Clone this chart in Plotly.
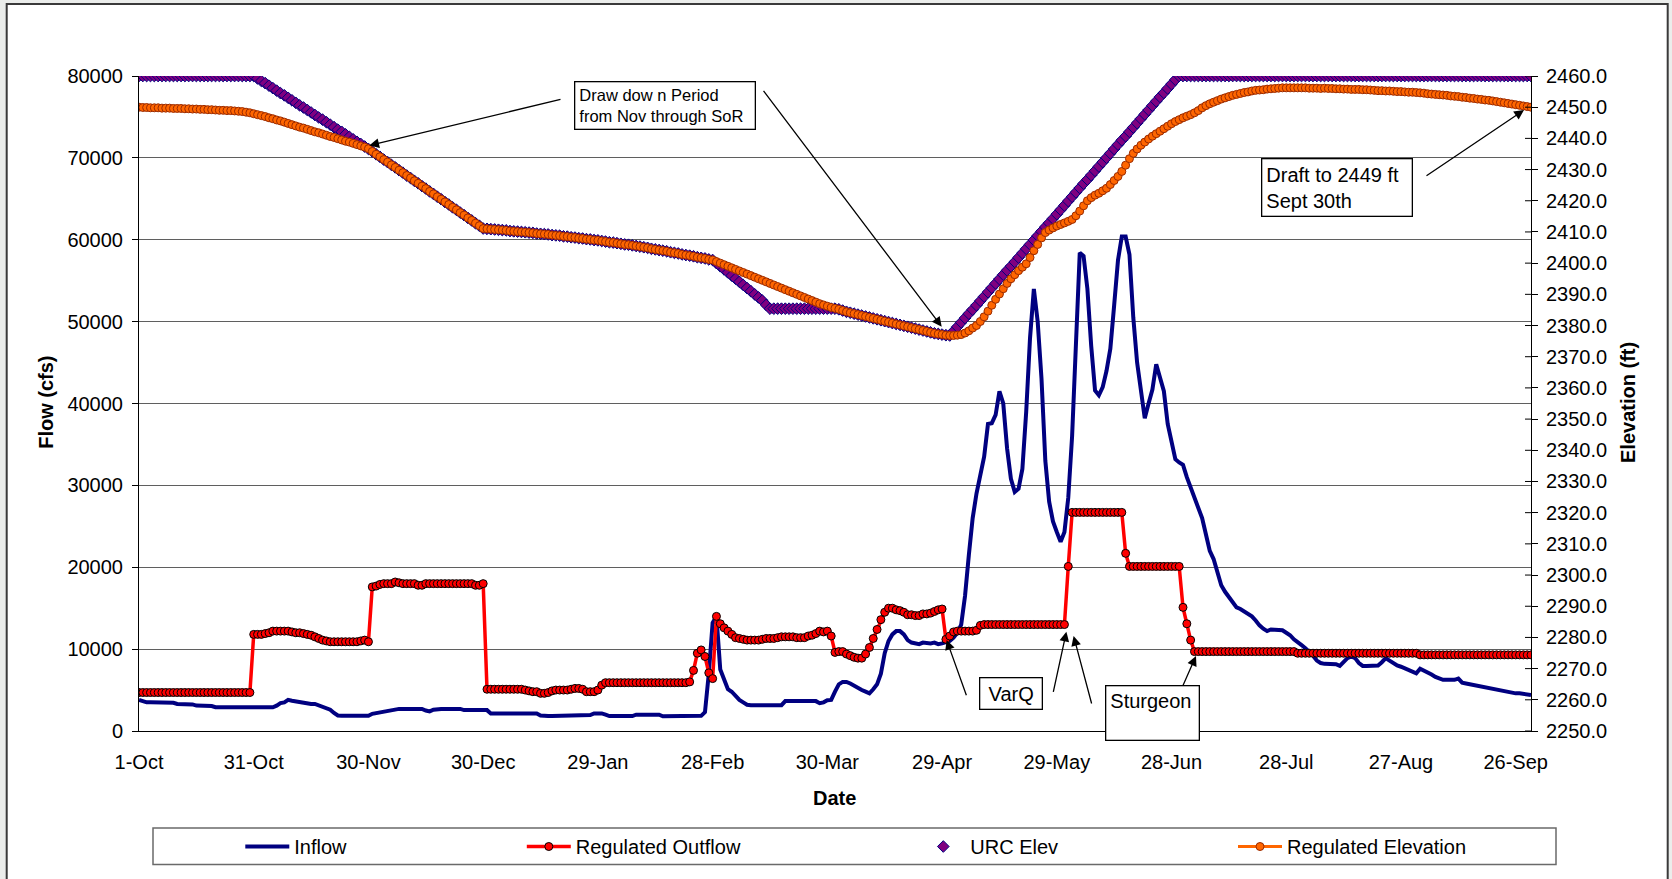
import plotly.graph_objects as go

# ------------------------------------------------------------------ data
tick_days = [0, 30, 60, 90, 120, 150, 180, 210, 240, 270, 300, 330, 360]
tick_labels = ["1-Oct", "31-Oct", "30-Nov", "30-Dec", "29-Jan", "28-Feb", "30-Mar",
               "29-Apr", "29-May", "28-Jun", "28-Jul", "27-Aug", "26-Sep"]

# Inflow (cfs), daily, Oct..Sep
inflow_oct = [3800, 3600, 3500, 3500, 3500, 3500, 3500, 3500, 3500, 3450,
              3300, 3300, 3300, 3300, 3250, 3100, 3100, 3100, 3100, 3050,
              2900, 2900, 2900, 2900, 2900, 3000, 2900, 2900, 2900, 2900,
              2900]
inflow_nov = [2900, 2900, 2900, 2900, 2900, 3100, 3400, 3500, 3800, 3700,
              3600, 3500, 3400, 3400, 3300, 3300, 3100, 2900, 2800, 2600,
              2200, 1900, 1850, 1850, 1850, 1850, 1850, 1850, 1850, 1850]
inflow_dec = [2100, 2200, 2200, 2300, 2500, 2500, 2600, 2700, 2700, 2700,
              2700, 2700, 2700, 2700, 2500, 2400, 2600, 2700, 2700, 2700,
              2700, 2700, 2700, 2700, 2550, 2550, 2550, 2550, 2550, 2550,
              2550]
inflow_jan = [2150, 2150, 2150, 2150, 2150, 2150, 2150, 2150, 2150, 2150,
              2150, 2150, 2150, 1900, 1830, 1830, 1830, 1830, 1830, 1830,
              1830, 1950, 1950, 1950, 1950, 1950, 1950, 2150, 2150, 2150,
              2000]
inflow_feb = [1830, 1830, 1830, 1830, 1830, 1830, 1830, 1990, 1990, 1990,
              1990, 1990, 1990, 1990, 1800, 1800, 1800, 1800, 1800, 1800,
              1800, 1800, 1800, 1800, 1850, 2300, 7000, 13200]
inflow_mar = [14000, 7500, 6200, 5100, 4800, 4300, 3800, 3500, 3200, 3150,
              3150, 3150, 3150, 3150, 3150, 3150, 3150, 3150, 3650, 3650,
              3650, 3650, 3650, 3650, 3650, 3650, 3650, 3400, 3500, 3750,
              3800]
inflow_apr = [4800, 5700, 6000, 6000, 5800, 5500, 5300, 5000, 4800, 4600,
              5100, 5700, 7000, 9500, 11000, 11800, 12200, 12200, 11800, 11100,
              10800, 10700, 10600, 10800, 10700, 10700, 10800, 10600, 10700, 10900]
inflow_may = [11000, 11400, 12000, 13000, 16500, 21500, 26000, 29000, 31500, 33500,
              37500, 37600, 38600, 41500, 40000, 34500, 30800, 29200, 29600, 32000,
              39000, 48000, 54000, 50000, 43000, 33000, 28000, 25600, 24300, 23100,
              24300]
inflow_jun = [28500, 36000, 48000, 58400, 58000, 54000, 47000, 41600, 41000, 42000,
              44000, 46700, 52000, 57500, 60400, 60400, 58200, 50500, 45000, 41200,
              38200, 40000, 41700, 44800, 43000, 41500, 37500, 35300, 33200, 32800]
inflow_jul = [32500, 31000, 29800, 28500, 27300, 26000, 24000, 22000, 21000, 19500,
              17800, 17000, 16300, 15700, 15100, 14900, 14600, 14400, 14000, 13500,
              12900, 12500, 12200, 12400, 12400, 12400, 12300, 12000, 11700, 11200,
              10900]
inflow_aug = [10500, 10100, 9700, 9200, 8600, 8300, 8200, 8200, 8200, 8150,
              7950, 8500, 8900, 9100, 8900, 8300, 7950, 7950, 7950, 7950,
              8000, 8400, 8900, 8600, 8300, 8000, 7850, 7650, 7450, 7200,
              7050]
inflow_sep = [7600, 7400, 7200, 6900, 6600, 6400, 6250, 6250, 6250, 6250,
              6400, 5900, 5800, 5700, 5650, 5550, 5450, 5350, 5300, 5200,
              5100, 5000, 4900, 4750, 4700, 4600, 4600, 4500, 4450, 4400]

# Regulated outflow (cfs)
outflow_oct = [4700] * 30 + [11800]
outflow_nov = [11800, 11800, 11900, 12000, 12200, 12200, 12200, 12200, 12200, 12100,
               12000, 12000, 11900, 11800, 11700, 11500, 11300, 11100, 11000, 10900,
               10900, 10900, 10900, 10900, 10900, 10900, 10900, 11000, 11100, 10900]
outflow_dec = [17600, 17700, 17900, 18000, 18000, 18000, 18200, 18100, 18000, 18000,
               18000, 18000, 17800, 17800, 18000, 18000, 18000, 18000, 18000, 18000,
               18000, 18000, 18000, 18000, 18000, 18000, 18000, 17800, 17800, 18000,
               5100]
outflow_jan = [5100, 5100, 5100, 5100, 5100, 5100, 5100, 5100, 5100, 5000,
               4900, 4800, 4800, 4600, 4600, 4700, 4900, 5000, 5000, 5000,
               5000, 5100, 5200, 5200, 5100, 4800, 4800, 4800, 5000, 5600,
               5900]
outflow_feb = [5900] * 21 + [6000, 7400, 9500, 9900, 9100, 7100, 6400]
outflow_mar = [14000, 13100, 12600, 12200, 11800, 11400, 11300, 11200, 11100, 11100,
               11100, 11100, 11200, 11300, 11300, 11300, 11400, 11500, 11500, 11500,
               11500, 11400, 11400, 11400, 11600, 11700, 11900, 12200, 12100, 12200,
               11600]
outflow_apr = [9600, 9700, 9700, 9400, 9200, 9000, 8900, 8900, 9400, 10200,
               11300, 12400, 13600, 14500, 15000, 15000, 14800, 14700, 14500, 14200,
               14200, 14100, 14100, 14300, 14300, 14400, 14600, 14800, 14900, 11200]
outflow_may = [11600, 12100, 12200, 12200, 12200, 12200, 12200, 12300, 12900] + [13000] * 22
outflow_jun = [20100] + [26700] * 14 + [21700] + [20100] * 14
outflow_jul = [15100, 13100, 11100] + [9700] * 27 + [9500]
outflow_aug = [9500] * 31
outflow_sep = [9300] * 30

# URC elevation (ft)
urc_oct = [2460.0] * 31
urc_nov = [2459.2, 2458.4, 2457.7, 2456.9, 2456.1, 2455.3, 2454.5, 2453.8, 2453.0, 2452.2,
           2451.4, 2450.6, 2449.9, 2449.1, 2448.3, 2447.5, 2446.7, 2446.0, 2445.2, 2444.4,
           2443.6, 2442.8, 2442.1, 2441.3, 2440.5, 2439.7, 2438.9, 2438.2, 2437.4, 2436.6]
urc_dec = [2435.8, 2434.9, 2434.1, 2433.2, 2432.4, 2431.5, 2430.7, 2429.8, 2429.0, 2428.1,
           2427.3, 2426.4, 2425.6, 2424.7, 2423.9, 2423.0, 2422.2, 2421.3, 2420.5, 2419.6,
           2418.8, 2417.9, 2417.1, 2416.2, 2415.4, 2414.5, 2413.7, 2412.8, 2412.0, 2411.1,
           2411.0]
urc_jan = [2410.9, 2410.8, 2410.7, 2410.6, 2410.5, 2410.3, 2410.2, 2410.1, 2410.0, 2409.9,
           2409.8, 2409.7, 2409.5, 2409.4, 2409.3, 2409.2, 2409.0, 2408.9, 2408.8, 2408.6,
           2408.5, 2408.3, 2408.2, 2408.0, 2407.9, 2407.7, 2407.6, 2407.4, 2407.3, 2407.1,
           2406.9]
urc_feb = [2406.7, 2406.6, 2406.4, 2406.2, 2406.0, 2405.9, 2405.7, 2405.5, 2405.3, 2405.1,
           2404.9, 2404.6, 2404.4, 2404.2, 2404.0, 2403.8, 2403.5, 2403.3, 2403.1, 2402.8,
           2402.6, 2402.4, 2402.2, 2401.9, 2401.7, 2401.5, 2401.2, 2401.0]
urc_mar = [2400.0, 2399.0, 2398.0, 2397.0, 2396.0, 2395.0, 2394.0, 2393.0, 2392.0, 2391.0,
           2390.0, 2389.0, 2388.0, 2386.6, 2385.4] + [2385.4] * 16
urc_apr = [2385.4, 2385.2, 2384.8, 2384.4, 2384.1, 2383.8, 2383.5, 2383.2, 2382.9, 2382.6,
           2382.3, 2382.0, 2381.7, 2381.4, 2381.1, 2380.8, 2380.5, 2380.2, 2379.9, 2379.6,
           2379.3, 2379.0, 2378.7, 2378.4, 2378.1, 2377.8, 2377.5, 2377.3, 2377.1, 2376.9]
urc_may = [2376.8, 2378.2, 2379.6, 2381.0, 2382.4, 2383.8, 2385.1, 2386.5, 2387.9, 2389.3,
           2390.7, 2392.1, 2393.5, 2394.9, 2396.3, 2397.7, 2399.0, 2400.4, 2401.8, 2403.2,
           2404.6, 2406.0, 2407.4, 2408.8, 2410.2, 2411.6, 2412.9, 2414.3, 2415.7, 2417.1,
           2418.5]
urc_jun = [2419.9, 2421.3, 2422.7, 2424.1, 2425.5, 2426.8, 2428.2, 2429.6, 2431.0, 2432.4,
           2433.8, 2435.2, 2436.6, 2438.0, 2439.4, 2440.7, 2442.1, 2443.5, 2444.9, 2446.3,
           2447.7, 2449.1, 2450.5, 2451.9, 2453.3, 2454.6, 2456.0, 2457.4, 2458.8, 2460.0]
urc_jul = [2460.0] * 31
urc_aug = [2460.0] * 31
urc_sep = [2460.0] * 30

# Regulated elevation (ft)
regel_oct = [2450.0, 2449.9, 2449.9, 2449.8, 2449.8, 2449.8, 2449.7, 2449.7, 2449.7, 2449.6,
             2449.6, 2449.6, 2449.5, 2449.5, 2449.4, 2449.4, 2449.3, 2449.3, 2449.2, 2449.2,
             2449.1, 2449.0, 2449.0, 2448.9, 2448.9, 2448.8, 2448.7, 2448.6, 2448.4, 2448.2,
             2447.9]
regel_nov = [2447.6, 2447.3, 2447.0, 2446.6, 2446.3, 2445.9, 2445.6, 2445.2, 2444.8, 2444.4,
             2444.0, 2443.6, 2443.3, 2442.9, 2442.5, 2442.1, 2441.8, 2441.4, 2441.0, 2440.6,
             2440.3, 2439.9, 2439.5, 2439.1, 2438.8, 2438.4, 2438.0, 2437.6, 2437.2, 2436.7]
regel_dec = [2435.8, 2434.9, 2434.1, 2433.2, 2432.4, 2431.5, 2430.7, 2429.8, 2429.0, 2428.1,
             2427.3, 2426.4, 2425.6, 2424.7, 2423.9, 2423.0, 2422.2, 2421.3, 2420.5, 2419.6,
             2418.8, 2417.9, 2417.1, 2416.2, 2415.4, 2414.5, 2413.7, 2412.8, 2412.0, 2411.1,
             2411.0]
regel_jan = [2410.9, 2410.8, 2410.7, 2410.6, 2410.5, 2410.3, 2410.2, 2410.1, 2410.0, 2409.9,
             2409.8, 2409.7, 2409.5, 2409.4, 2409.3, 2409.2, 2409.0, 2408.9, 2408.8, 2408.6,
             2408.5, 2408.3, 2408.2, 2408.0, 2407.9, 2407.7, 2407.6, 2407.4, 2407.3, 2407.1,
             2406.9]
regel_feb = [2406.7, 2406.6, 2406.4, 2406.2, 2406.0, 2405.9, 2405.7, 2405.5, 2405.3, 2405.1,
             2404.9, 2404.6, 2404.4, 2404.2, 2404.0, 2403.8, 2403.5, 2403.3, 2403.1, 2402.8,
             2402.6, 2402.4, 2402.2, 2401.9, 2401.7, 2401.5, 2401.2, 2401.0]
regel_mar = [2400.5, 2400.0, 2399.5, 2399.0, 2398.5, 2398.0, 2397.5, 2397.0, 2396.5, 2396.0,
             2395.5, 2395.0, 2394.5, 2394.0, 2393.5, 2393.0, 2392.5, 2392.0, 2391.5, 2391.0,
             2390.5, 2390.0, 2389.5, 2389.0, 2388.5, 2388.0, 2387.5, 2387.0, 2386.6, 2386.2,
             2385.8]
regel_apr = [2385.5, 2385.2, 2384.8, 2384.4, 2384.1, 2383.8, 2383.5, 2383.2, 2382.9, 2382.6,
             2382.3, 2382.0, 2381.7, 2381.4, 2381.1, 2380.8, 2380.5, 2380.2, 2379.9, 2379.6,
             2379.3, 2379.0, 2378.7, 2378.4, 2378.1, 2377.8, 2377.5, 2377.3, 2377.1, 2376.9]
regel_may = [2376.8, 2376.8, 2376.9, 2377.1, 2377.6, 2378.3, 2379.2, 2380.0, 2381.3, 2382.8,
             2384.6, 2386.5, 2388.4, 2390.1, 2391.8, 2393.5, 2395.0, 2396.3, 2397.6, 2398.7,
             2399.8, 2401.8, 2404.0, 2406.0, 2408.1, 2409.8, 2410.6, 2411.3, 2411.9, 2412.4,
             2412.9]
regel_jun = [2413.4, 2414.0, 2415.2, 2416.7, 2418.4, 2420.0, 2421.0, 2421.8, 2422.4, 2423.2,
             2424.0, 2425.2, 2426.5, 2427.8, 2429.4, 2431.4, 2433.5, 2435.2, 2436.6, 2437.8,
             2438.8, 2439.8, 2440.7, 2441.5, 2442.3, 2443.1, 2443.9, 2444.7, 2445.4, 2446.0]
regel_jul = [2446.6, 2447.1, 2447.6, 2448.2, 2448.9, 2449.8, 2450.5, 2451.1, 2451.6, 2452.1,
             2452.6, 2453.0, 2453.4, 2453.8, 2454.1, 2454.4, 2454.7, 2454.9, 2455.2, 2455.4,
             2455.5, 2455.6, 2455.8, 2455.9, 2456.0, 2456.1, 2456.2, 2456.2, 2456.2, 2456.2,
             2456.2]
regel_aug = [2456.2, 2456.2, 2456.1, 2456.1, 2456.1, 2456.0, 2456.1, 2456.0, 2456.0, 2455.9,
             2455.9, 2455.8, 2455.8, 2455.7, 2455.7, 2455.7, 2455.6, 2455.6, 2455.5, 2455.4,
             2455.3, 2455.3, 2455.2, 2455.2, 2455.1, 2455.0, 2455.0, 2454.9, 2454.8, 2454.8,
             2454.7]
regel_sep = [2454.6, 2454.5, 2454.3, 2454.2, 2454.1, 2454.0, 2453.9, 2453.8, 2453.6, 2453.5,
             2453.4, 2453.2, 2453.1, 2452.9, 2452.8, 2452.6, 2452.5, 2452.3, 2452.2, 2452.0,
             2451.8, 2451.6, 2451.4, 2451.2, 2451.0, 2450.8, 2450.6, 2450.4, 2450.2, 2450.0]

inflow = (inflow_oct + inflow_nov + inflow_dec + inflow_jan + inflow_feb + inflow_mar +
          inflow_apr + inflow_may + inflow_jun + inflow_jul + inflow_aug + inflow_sep)
outflow = (outflow_oct + outflow_nov + outflow_dec + outflow_jan + outflow_feb + outflow_mar +
           outflow_apr + outflow_may + outflow_jun + outflow_jul + outflow_aug + outflow_sep)
urc_elev = (urc_oct + urc_nov + urc_dec + urc_jan + urc_feb + urc_mar +
            urc_apr + urc_may + urc_jun + urc_jul + urc_aug + urc_sep)
reg_elev = (regel_oct + regel_nov + regel_dec + regel_jan + regel_feb + regel_mar +
            regel_apr + regel_may + regel_jun + regel_jul + regel_aug + regel_sep)

# ------------------------------------------------------------------ layout helpers
W, H = 1672, 879
L, R, T, B = 139, 141, 76, 148
PW, PH = W - L - R, H - T - B
FONT = "Liberation Sans, Arial, sans-serif"


def fx(px):
    return (px - L) / PW


def fy(py):
    return (H - B - py) / PH


fig = go.Figure()

fig.add_trace(go.Scatter(
    x=list(range(len(inflow))), y=inflow, name="Inflow", mode="lines",
    line=dict(color="#000080", width=4), legend="legend"))
fig.add_trace(go.Scatter(
    x=list(range(len(outflow))), y=outflow, name="Regulated Outflow", mode="lines+markers",
    line=dict(color="#FF0000", width=3.5),
    marker=dict(symbol="circle", size=8, color="#FF0000", line=dict(color="black", width=1)),
    legend="legend2"))
fig.add_trace(go.Scatter(
    x=list(range(len(urc_elev))), y=urc_elev, name="URC Elev", mode="markers",
    marker=dict(symbol="diamond", size=9, color="#800080", line=dict(color="#000080", width=1)),
    yaxis="y2", legend="legend3"))
fig.add_trace(go.Scatter(
    x=list(range(len(reg_elev))), y=reg_elev, name="Regulated Elevation", mode="lines+markers",
    line=dict(color="#FF6600", width=3),
    marker=dict(symbol="circle", size=8, color="#FF6600", line=dict(color="#9a2a00", width=1)),
    yaxis="y2", legend="legend4"))

shapes = []
# outer chart-area frame
shapes.append(dict(type="rect", xref="paper", yref="paper", layer="below",
                   x0=fx(6.7), x1=fx(1667.7), y0=fy(4), y1=fy(900),
                   fillcolor="white", line=dict(color="#3a3a3a", width=2)))
# legend box
shapes.append(dict(type="rect", xref="paper", yref="paper", layer="below",
                   x0=fx(153), x1=fx(1556), y0=fy(828), y1=fy(864.5),
                   fillcolor="white", line=dict(color="#6a6a6a", width=1.5)))
# inner half of the cross tick marks on the right axis
for v in range(2250, 2461, 10):
    shapes.append(dict(type="line", xref="paper", yref="y2", x0=1 - 6 / PW, x1=1,
                       y0=v, y1=v, line=dict(color="black", width=1)))

ann = []


def box(text, left, top, right, bottom, size, align="left", valign="middle"):
    bw, pad = 1.3, 4
    full = bw + pad
    return dict(xref="paper", yref="paper", x=fx(left), y=fy(top), xanchor="left",
                yanchor="top", text=text, showarrow=False,
                font=dict(family=FONT, size=size, color="black"), align=align,
                valign=valign, width=right - left - 2 * full, height=bottom - top - 2 * full,
                bordercolor="black", borderwidth=bw, borderpad=pad, bgcolor="white")


def arrow(tail, tip):
    return dict(xref="paper", yref="paper", x=fx(tip[0]), y=fy(tip[1]), text="",
                showarrow=True, axref="pixel", ayref="pixel",
                ax=tail[0] - tip[0], ay=tail[1] - tip[1], arrowhead=2, arrowsize=1.5,
                arrowwidth=1.3, arrowcolor="black", standoff=0, startstandoff=0)


ann.append(arrow((562, 99), (369.3, 145.5)))
ann.append(arrow((762.4, 89.3), (941.7, 326.7)))
ann.append(arrow((1425, 176.7), (1524, 110)))
ann.append(arrow((966.9, 696.7), (946.6, 640)))
ann.append(arrow((1053, 693.3), (1066.4, 631.7)))
ann.append(arrow((1092, 705), (1073.6, 636)))
ann.append(arrow((1181, 690), (1196, 656)))

ann.append(box("Draw dow n Period<br>from Nov through SoR", 573.7, 80.7, 755.5, 130, 16.5))
ann.append(box("Draft to 2449 ft<br>Sept 30th", 1261, 157.7, 1412.7, 216.7, 20))
ann.append(box("VarQ", 979, 677.3, 1043.4, 710.7, 20, align="center"))
ann.append(box("Sturgeon", 1104.5, 685, 1199.5, 740.5, 20, valign="top"))

# axis titles
ann.append(dict(xref="paper", yref="paper", x=fx(834), y=fy(797.6), text="<b>Date</b>",
                showarrow=False, font=dict(family=FONT, size=20, color="black"),
                xanchor="center", yanchor="middle"))
ann.append(dict(xref="paper", yref="paper", x=fx(45.8), y=fy(402), text="<b>Flow (cfs)</b>",
                showarrow=False, textangle=-90, font=dict(family=FONT, size=20, color="black"),
                xanchor="center", yanchor="middle"))
ann.append(dict(xref="paper", yref="paper", x=fx(1628), y=fy(403), text="<b>Elevation (ft)</b>",
                showarrow=False, textangle=-90, font=dict(family=FONT, size=20, color="black"),
                xanchor="center", yanchor="middle"))

leg_common = dict(orientation="h", bgcolor="rgba(0,0,0,0)", borderwidth=0,
                  font=dict(family=FONT, size=20, color="black"), itemwidth=44,
                  xanchor="left", yanchor="middle", y=fy(846.5))

fig.update_layout(
    width=W, height=H,
    margin=dict(l=L, r=R, t=T, b=B, autoexpand=False),
    paper_bgcolor="#ebedeb", plot_bgcolor="white",
    font=dict(family=FONT, size=20, color="black"),
    showlegend=True,
    legend=dict(leg_common, x=fx(240.3)),
    legend2=dict(leg_common, x=fx(521.8)),
    legend3=dict(leg_common, x=fx(916.3)),
    legend4=dict(leg_common, x=fx(1233)),
    xaxis=dict(range=[0, 364], tickmode="array", tickvals=tick_days, ticktext=tick_labels,
               showgrid=False, zeroline=False, showline=True, linecolor="black", linewidth=1,
               ticks="", ticklabelstandoff=13, tickfont=dict(family=FONT, size=20, color="black")),
    yaxis=dict(range=[0, 80000], tickmode="array", tickvals=list(range(0, 80001, 10000)),
               tickformat="d", showgrid=True, gridcolor="#5f5f5f", gridwidth=1,
               zeroline=False, showline=True, linecolor="black", linewidth=1,
               ticks="outside", ticklen=6, tickcolor="black", ticklabelstandoff=5,
               tickfont=dict(family=FONT, size=20, color="black")),
    yaxis2=dict(range=[2250, 2460], overlaying="y", side="right", tickmode="array",
                tickvals=list(range(2250, 2461, 10)), tickformat=".1f", showgrid=False,
                zeroline=False, showline=True, linecolor="black", linewidth=1,
                ticks="outside", ticklen=6, tickcolor="black", ticklabelstandoff=4,
                tickfont=dict(family=FONT, size=20, color="black")),
    shapes=shapes, annotations=ann,
)

fig.write_html("out.html", config={"displayModeBar": False},
               post_script="document.body.style.margin='0';document.body.style.overflow='hidden';")
